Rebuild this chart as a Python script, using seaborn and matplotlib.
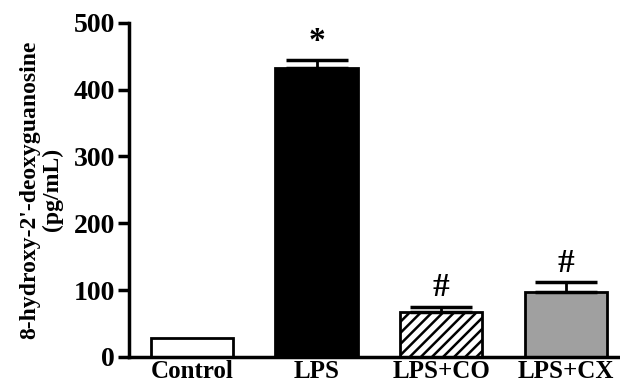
import numpy as np
import pandas as pd
import seaborn as sns
import matplotlib
matplotlib.use("Agg")
import matplotlib.pyplot as plt

# data
groups = ["Control", "LPS", "LPS+CO", "LPS+CX"]
means = [28, 433, 67, 97]
sem = [0, 11, 8, 15]
marks = ["", "*", "#", "#"]
fills = ["white", "black", "white", "#a0a0a0"]
hatches = ["", "", "///", ""]

df = pd.DataFrame({"group": groups, "value": means})

sns.set_style("ticks")
plt.rcParams["font.family"] = ["Liberation Serif", "DejaVu Serif"]
plt.rcParams["font.weight"] = "bold"
plt.rcParams["hatch.linewidth"] = 1.8
plt.rcParams["axes.edgecolor"] = "black"
plt.rcParams["xtick.color"] = "black"
plt.rcParams["ytick.color"] = "black"
plt.rcParams["text.color"] = "black"
plt.rcParams["axes.labelcolor"] = "black"

fig = plt.figure(figsize=(6.2, 3.87), dpi=100)
ax = fig.add_axes([0.208, 0.078, 0.789, 0.863])

sns.barplot(data=df, x="group", y="value", hue="group", palette=fills,
            width=0.66, edgecolor="black", linewidth=2, legend=False, ax=ax,
            errorbar=None)

for patch, h in zip(ax.patches, hatches):
    patch.set_hatch(h)

x = np.arange(len(groups))
ax.errorbar(x[1:], means[1:], yerr=[np.zeros(3), sem[1:]], fmt="none",
            ecolor="black", elinewidth=2, capsize=22, capthick=2.5)

for xi, m, s, t in zip(x, means, sem, marks):
    if t:
        ax.text(xi, m + s + 5, t, ha="center", va="bottom", fontsize=24,
                fontweight="bold")

ax.set_ylim(0, 500)
ax.set_xlim(-0.505, 3.42)
ax.set_yticks([0, 100, 200, 300, 400, 500])
ax.set_xlabel("")
ax.set_ylabel("8-hydroxy-2'-deoxyguanosine\n(pg/mL)", fontsize=17,
              fontweight="bold", labelpad=8, linespacing=1.05)
sns.despine(ax=ax)
for side in ["left", "bottom"]:
    ax.spines[side].set_linewidth(2.5)
ax.tick_params(axis="y", width=2.5, length=8, labelsize=20, pad=2)
ax.tick_params(axis="x", length=0, labelsize=18, pad=2)
for lab in ax.get_xticklabels() + ax.get_yticklabels():
    lab.set_fontweight("bold")

fig.savefig("out.png", dpi=100)
